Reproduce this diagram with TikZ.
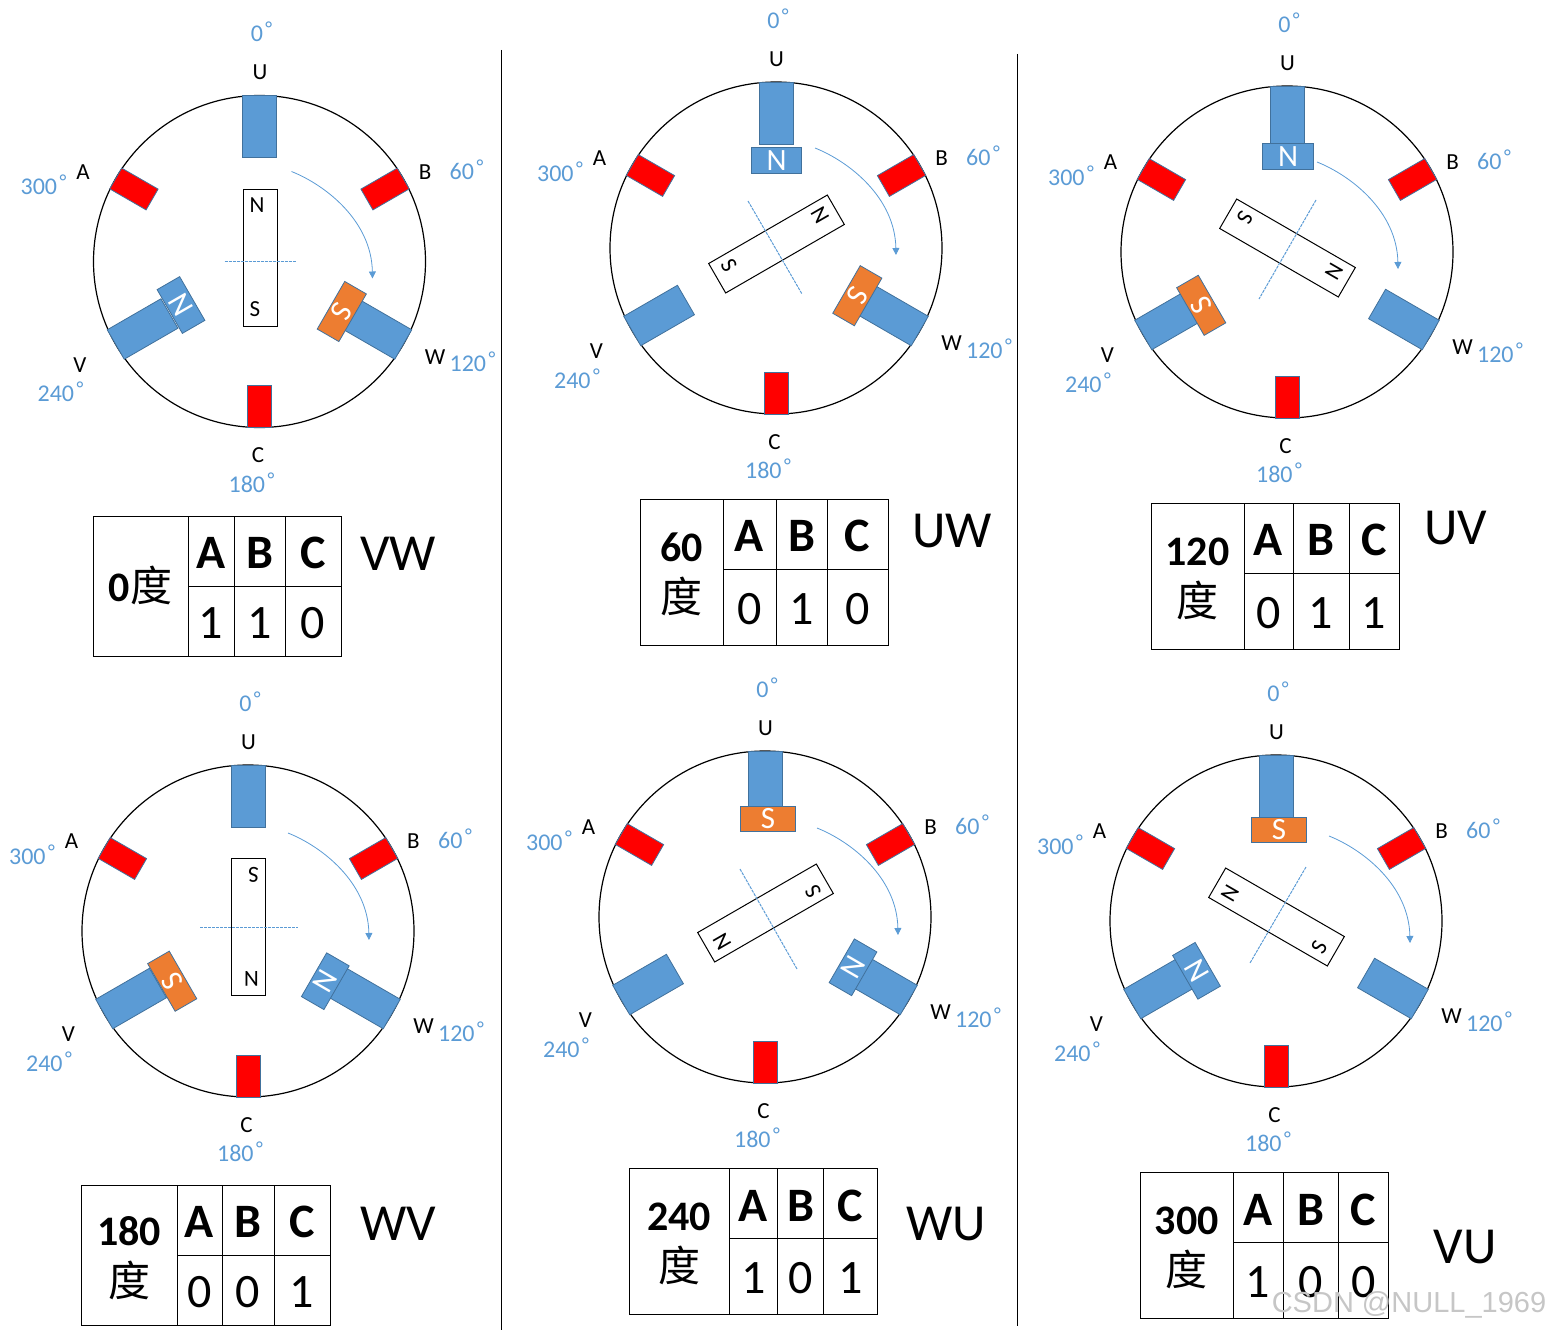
\documentclass[tikz,border=0pt]{standalone}
\usepackage{fontspec}
\setmainfont{Carlito}
\newfontfamily\cjk{Noto Sans CJK SC}
\newfontfamily\wmfont{Liberation Sans}
\usepackage{xcolor}
\usetikzlibrary{positioning,calc,arrows.meta}
\definecolor{coilblue}{HTML}{5b9bd5}
\definecolor{coiledge}{HTML}{41719c}
\definecolor{shoeorange}{HTML}{ed7d31}
\newcommand{\ringmark}{\kern2.5pt\smash{\raisebox{6pt}{\fontsize{20}{20}\selectfont °}}}
\tikzset{
  coilbox/.style={draw=coiledge, line width=0.8pt, fill=coilblue, inner sep=0pt, outer sep=0pt, minimum width=34pt, minimum height=62pt},
  hallbox/.style={draw=coiledge, line width=0.8pt, fill=red, inner sep=0pt, outer sep=0pt, minimum width=24pt, minimum height=42pt},
  shoebox/.style={draw=coiledge, line width=0.8pt, inner sep=0pt, outer sep=0pt, text=white, font=\fontsize{31}{31}\selectfont},
  shoeN/.style={shoebox, fill=coilblue, minimum width=50.5pt, minimum height=26pt},
  shoeS/.style={shoebox, fill=shoeorange, minimum width=55pt, minimum height=25pt},
  rotorbox/.style={draw=black, line width=1pt, fill=white, inner sep=0pt, minimum width=34pt, minimum height=137pt},
  phaselabel/.style={font=\fontsize{23}{23}\selectfont, inner sep=0pt},
  anglelabel/.style={font=\fontsize{24}{24}\selectfont, text=coilblue, inner sep=0pt},
  headcell/.style={font=\fontsize{48}{48}\selectfont\bfseries, inner sep=0pt},
  valcell/.style={font=\fontsize{48}{48}\selectfont, inner sep=0pt},
  anglecell/.style={font=\fontsize{42}{50.5}\selectfont, align=center, inner sep=0pt},
  comblabel/.style={font=\fontsize{52}{52}\selectfont, inner sep=0pt},
  tableline/.style={line width=1pt, draw=black},
}
\begin{document}
\begin{tikzpicture}[x=1pt, y=1pt]
  \useasboundingbox (0,0) rectangle (1550,-1330);

  % Six rotor positions
  \foreach \p/\cx/\cy/\rot/\shN/\nx/\ny/\shS/\sx/\sy/\dxa/\dya/\dxb/\dyb/\arx/\ary in {
    a/259.5/-261.5/0/240/-78.5/-43.5/120/82.3/-50/-35/0/36/0/32/90,
    b/776/-248/60/0/0.5/87.7/120/81.3/-47.7/-28/47/26/-46/39/100,
    c/1287/-252/120/0/1/95.2/240/-85.8/-53.3/29/52/-28/-47/30/90,
    d/248/-931/180/120/77.3/-50.2/240/-75.8/-50.2/-48/4/50/4/40/98,
    e/765/-917/240/120/88/-50.3/0/3/98.2/-25/48/32/-52/52/89,
    f/1276/-921/300/240/-79.5/-49.8/0/3/91/30/54/-26/-42/53/85} {
    \begin{scope}[shift={(\cx,\cy)}]
      \node[circle, draw=black, line width=1.2pt, minimum size=332pt, inner sep=0pt] (\p-frame) at (0,0) {};
      % Coils and hall sensors
      \foreach \n/\a in {U/0,W/120,V/240}
        \node[coilbox, rotate=-\a] (\p-coil\n) at (90-\a:135) {};
      \foreach \n/\a in {B/60,C/180,A/300}
        \node[hallbox, rotate=-\a] (\p-hall\n) at (90-\a:145) {};
      % Energised poles
      \node[shoeN, rotate=-\shN] (\p-shoeN) at (\nx,\ny) {N};
      \node[shoeS, rotate=-\shS] (\p-shoeS) at (\sx,\sy) {S};
      % Rotor
      \begin{scope}[shift={(0.5,4)}, rotate=-\rot, transform shape]
        \node[rotorbox] (\p-rotor) at (0,0) {};
        \node[phaselabel] (\p-rotorN) at (-3,52) {N};
        \node[phaselabel] (\p-rotorS) at (-5,-52) {S};
      \end{scope}
      \coordinate (\p-axisA) at (\dxa,\dya);
      \coordinate (\p-axisB) at (\dxb,\dyb);
      \draw[coilblue, line width=1pt, dash pattern=on 3pt off 1pt] (\p-axisA) -- (\p-axisB);
      % Rotation arrow
      \coordinate (\p-turnA) at (\arx,\ary);
      \coordinate (\p-turnB) at ($(\p-turnA)+(81,-107)$);
      \draw[coilblue, line width=0.8pt, -{Triangle[length=7pt,width=7pt]}] (\p-turnA) .. controls ($(\p-turnA)+(35,-14)$) and ($(\p-turnA)+(80,-50)$) .. (\p-turnB);
      % Phase and angle labels
      \foreach \n/\x/\y in {U/0.5/189,C/-1.5/-194,A/-176.5/89.5,B/165.5/89.5,V/-179.5/-103.5,W/175.5/-95.5}
        \node[phaselabel] (\p-label\n) at (\x,\y) {\n};
      \foreach \d/\x/\y in {0/2/227.5,60/207/90.5,120/213/-102.5,180/-8/-222.5,240/-199/-132.5,300/-216/74.5}
        \node[anglelabel] (\p-deg\d) at (\x,\y) {\d\ringmark};
    \end{scope}
  }

  % Truth tables
  \foreach \t/\xa/\xb/\xc/\xd/\xe/\ya/\yb/\yc/\lab/\ly/\va/\vb/\vc/\comb/\cbx/\cby in {
    ta/93/188/234/285/341/-516/-586/-656/{\textbf{0}{\cjk 度}}/-585.5/1/1/0/VW/398/-554,
    tb/640/723/776/827/888/-499/-569/-645/{\textbf{60}\\{\cjk 度}}/-574.5/0/1/0/UW/952/-531,
    tc/1151/1244/1293/1349/1399/-503/-573/-649/{\textbf{120}\\{\cjk 度}}/-579/0/1/1/UV/1456/-528,
    td/81/177/222/274/330/-1185/-1255/-1325/{\textbf{180}\\{\cjk 度}}/-1258/0/0/1/WV/398/-1224,
    te/629.5/729/777.5/823.5/877/-1168.5/-1238.5/-1314/{\textbf{240}\\{\cjk 度}}/-1244/1/0/1/WU/946/-1224,
    tf/1140.5/1233/1283/1338/1388.5/-1172.5/-1242.5/-1318/{\textbf{300}\\{\cjk 度}}/-1248/1/0/0/VU/1465/-1247} {
    \draw[tableline] (\xa,\ya) rectangle (\xe,\yc);
    \draw[tableline] (\xb,\ya) -- (\xb,\yc) (\xc,\ya) -- (\xc,\yc) (\xd,\ya) -- (\xd,\yc) (\xb,\yb) -- (\xe,\yb);
    \node[anglecell] (\t-angle) at ({(\xa+\xb)/2},\ly) {\lab};
    \node[headcell] (\t-headA) at ({(\xb+\xc)/2},{(\ya+\yb)/2-2}) {A};
    \node[headcell] (\t-headB) at ({(\xc+\xd)/2},{(\ya+\yb)/2-2}) {B};
    \node[headcell] (\t-headC) at ({(\xd+\xe)/2},{(\ya+\yb)/2-2}) {C};
    \node[valcell] (\t-valA) at ({(\xb+\xc)/2},{(\yb+\yc)/2-2}) {\va};
    \node[valcell] (\t-valB) at ({(\xc+\xd)/2},{(\yb+\yc)/2-2}) {\vb};
    \node[valcell] (\t-valC) at ({(\xd+\xe)/2},{(\yb+\yc)/2-2}) {\vc};
    \node[comblabel] (\t-comb) at (\cbx,\cby) {\comb};
  }

  % Column separators
  \coordinate (sepAtop) at (501,-50);
  \coordinate (sepAbot) at (501,-1330);
  \coordinate (sepBtop) at (1017,-54);
  \coordinate (sepBbot) at (1017,-1326);
  \draw[line width=1pt] (sepAtop) -- (sepAbot);
  \draw[line width=1pt] (sepBtop) -- (sepBbot);

  % Watermark
  \node[font=\wmfont\fontsize{29}{29}\selectfont, text=gray!45, inner sep=0pt] (mark) at (1409,-1305) {CSDN @NULL\_1969};
\end{tikzpicture}
\end{document}
